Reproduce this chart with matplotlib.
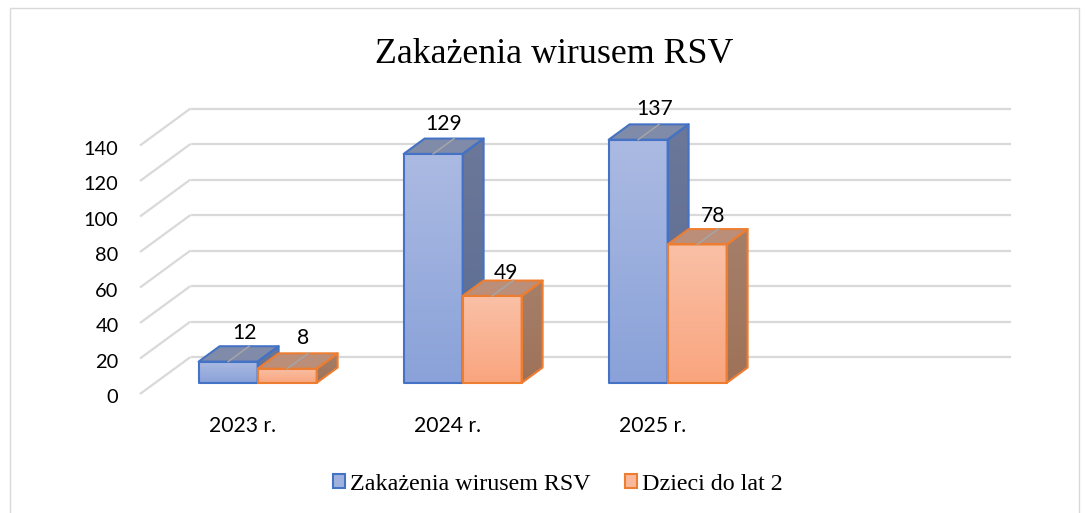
import numpy as np
import matplotlib
matplotlib.use("Agg")
import matplotlib.pyplot as plt
from matplotlib.patches import Polygon, Patch, Rectangle
from matplotlib.transforms import ScaledTranslation

# data
categories = ["2023 r.", "2024 r.", "2025 r."]
series_names = ["Zakażenia wirusem RSV", "Dzieci do lat 2"]
rsv_all = [12, 129, 137]
rsv_kids = [8, 49, 78]
y_ticks = [0, 20, 40, 60, 80, 100, 120, 140]

W, H = 1089, 513
fig = plt.figure(figsize=(W / 100, H / 100), dpi=100)
fig.patch.set_facecolor("white")

# outer chart frame
fig.add_artist(Rectangle((10 / W, -0.02), 1069 / W, 1 - 8 / H + 0.02, transform=fig.transFigure,
                         fill=False, edgecolor="#D9D9D9", linewidth=1))

# front plane of the 3d box, 4 category slots (last one empty)
ax = fig.add_axes([140 / W, 1 - 394 / H, 820 / W, 248.5 / H])
ax.set_xlim(-0.5, 3.5)
ax.set_ylim(0, 140)
ax.patch.set_alpha(0)
for s in ax.spines.values():
    s.set_visible(False)

# depth of the box in data units
DX = 50.5 / 205
DY = 37 / 1.775
BAR_W = 59 / 205
D0, D1 = 0.30, 0.715  # bar front and back as fraction of box depth


def proj(x, v, d):
    return x + DX * d, v + DY * d


# walls
grid_c = "#D9D9D9"
for v in y_ticks:
    ax.plot([-0.5, -0.5 + DX], [v, v + DY], color=grid_c, lw=1.6, clip_on=False, zorder=1, solid_capstyle="butt")
    ax.plot([-0.5 + DX, 3.5 + DX], [v + DY, v + DY], color=grid_c, lw=1.6, clip_on=False, zorder=1, solid_capstyle="butt")


def shaded(poly, c_top, c_bot, zorder):
    # vertical gradient clipped to a face
    pts = np.array(poly)
    a = np.array(matplotlib.colors.to_rgb(c_top))
    b = np.array(matplotlib.colors.to_rgb(c_bot))
    t = np.linspace(0, 1, 64)[:, None]
    grad = (a * (1 - t) + b * t)[:, None, :]
    im = ax.imshow(grad, extent=[pts[:, 0].min(), pts[:, 0].max(), pts[:, 1].min(), pts[:, 1].max()],
                   origin="upper", aspect="auto", zorder=zorder, interpolation="bilinear")
    clip = Polygon(poly, closed=True, transform=ax.transData, facecolor="none", edgecolor="none")
    ax.add_patch(clip)
    clip.set_clip_on(False)
    im.set_clip_box(fig.bbox)
    im.set_clip_path(clip)


def bar3d(x0, v, edge, front, side, top_c, zorder):
    x1 = x0 + BAR_W
    fl0, fb0 = proj(x0, 0, D0)
    fr0, _ = proj(x1, 0, D0)
    _, ft = proj(x0, v, D0)
    bl, bt = proj(x0, v, D1)
    br, _ = proj(x1, v, D1)
    _, bb = proj(x1, 0, D1)
    f_poly = [(fl0, fb0), (fr0, fb0), (fr0, ft), (fl0, ft)]
    s_poly = [(fr0, fb0), (br, bb), (br, bt), (fr0, ft)]
    t_poly = [(fl0, ft), (fr0, ft), (br, bt), (bl, bt)]
    shaded(f_poly, front[0], front[1], zorder)
    shaded(s_poly, side[0], side[1], zorder)
    ax.add_patch(Polygon(t_poly, closed=True, facecolor=top_c, edgecolor="none", zorder=zorder, clip_on=False))
    for p in (s_poly, t_poly, f_poly):
        ax.add_patch(Polygon(p, closed=True, fill=False, edgecolor=edge, linewidth=1.5,
                             joinstyle="round", zorder=zorder + 0.1, clip_on=False))
    # thin grey leader on the top face
    xm = (fl0 + fr0) / 2
    ax.plot([xm, xm + (bl - fl0)], [ft, bt], color="#A5A5A5", lw=1.1, zorder=zorder + 0.2, clip_on=False)
    return xm + (bl - fl0) / 2, ft


blue = dict(edge="#4472C4", front=("#ABBAE2", "#8AA2D9"), side=("#6C7899", "#5A6B93"), top_c="#808BAA")
orange = dict(edge="#ED7D31", front=("#FAC0A6", "#F9A57E"), side=("#A67F69", "#9E7259"), top_c="#BA8E78")

# per label manual offsets in px (dx, height above front top edge)
nudge_all = [(6, 29), (0, 30), (6, 31)]
nudge_kids = [(5, 31), (3, 23), (5, 28)]

z = 3
for i in range(len(categories)):
    for vals, style, nudge, x0 in ((rsv_all, blue, nudge_all, i - BAR_W), (rsv_kids, orange, nudge_kids, i)):
        xm, ft = bar3d(x0, vals[i], zorder=z, **style)
        ax.annotate(str(vals[i]), (xm, ft), xytext=(nudge[i][0] * 0.72, nudge[i][1] * 0.72), textcoords="offset points",
                    ha="center", va="center", fontsize=15.2, family="Lato", color="black", zorder=30,
                    annotation_clip=False)
        z += 1

ax.set_xticks(range(len(categories)), categories, family="Lato", fontsize=15.2)
ax.set_yticks(y_ticks, [str(v) for v in y_ticks], family="Lato", fontsize=14.4)
ax.tick_params(axis="x", length=0, pad=15.7)
ax.tick_params(axis="y", length=0, pad=15.5)
# y labels sit a little lower than the gridline ends
shift = ScaledTranslation(0, -2.2 / 100, fig.dpi_scale_trans)
for lab in ax.get_yticklabels():
    lab.set_transform(lab.get_transform() + shift)
ax.set_xlim(-0.5, 3.5)
ax.set_ylim(0, 140)

fig.text(554 / W, 1 - 55 / H, "Zakażenia wirusem RSV", ha="center", va="center",
         fontsize=25.8, family="Liberation Serif", color="black")

handles = [Patch(facecolor="#A0B1DE", edgecolor="#4472C4", linewidth=1.5),
           Patch(facecolor="#FAB89A", edgecolor="#ED7D31", linewidth=1.5)]
fig.legend(handles, series_names, loc="center", bbox_to_anchor=(558 / W, 1 - 484 / H), ncol=2, frameon=False,
           prop={"family": "Liberation Serif", "size": 17.3}, handlelength=0.5, handleheight=0.5,
           handletextpad=0.2, columnspacing=1.45, borderpad=0)

fig.savefig("out.png", dpi=100)
